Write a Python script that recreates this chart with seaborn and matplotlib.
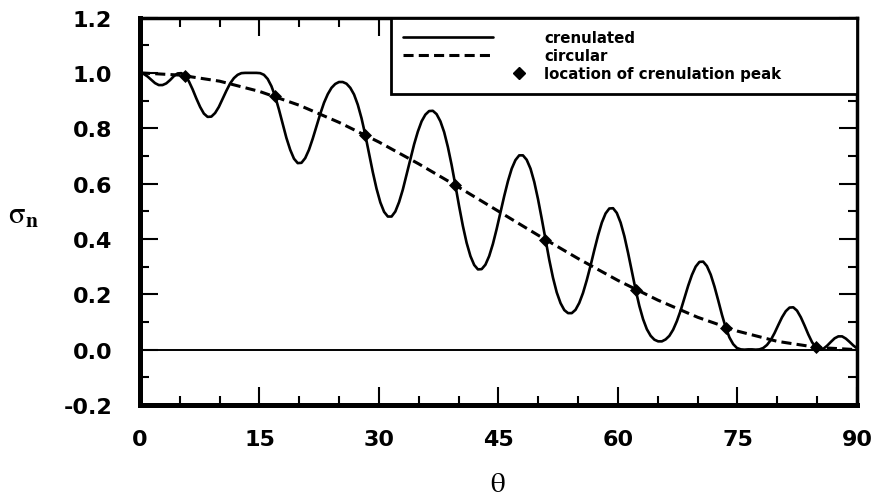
import matplotlib
matplotlib.use("Agg")
import matplotlib.pyplot as plt
from matplotlib.lines import Line2D
from matplotlib.legend_handler import HandlerLine2D
from matplotlib.ticker import MultipleLocator, FuncFormatter
import pandas as pd
import seaborn as sns

# Normal stress on the crenulated surface, sampled along theta (degrees)
theta_cren = [
    0.00, 0.48, 0.95, 1.42, 1.89, 2.36, 2.83, 3.30, 3.78, 4.25, 4.72, 5.19,
    5.66, 6.13, 6.60, 7.07, 7.55, 8.02, 8.49, 8.96, 9.43, 9.90, 10.37, 10.84,
    11.32, 11.79, 12.26, 12.73, 13.20, 13.67, 14.14, 14.61, 15.09, 15.56, 16.03, 16.50,
    16.97, 17.44, 17.91, 18.38, 18.86, 19.33, 19.80, 20.27, 20.74, 21.21, 21.68, 22.15,
    22.63, 23.10, 23.57, 24.04, 24.51, 24.98, 25.45, 25.92, 26.40, 26.87, 27.34, 27.81,
    28.28, 28.75, 29.22, 29.69, 30.17, 30.64, 31.11, 31.58, 32.05, 32.52, 32.99, 33.46,
    33.94, 34.41, 34.88, 35.35, 35.82, 36.29, 36.76, 37.23, 37.71, 38.18, 38.65, 39.12,
    39.59, 40.06, 40.53, 41.00, 41.48, 41.95, 42.42, 42.89, 43.36, 43.83, 44.30, 44.77,
    45.25, 45.72, 46.19, 46.66, 47.13, 47.60, 48.07, 48.54, 49.02, 49.49, 49.96, 50.43,
    50.90, 51.37, 51.84, 52.31, 52.79, 53.26, 53.73, 54.20, 54.67, 55.14, 55.61, 56.08,
    56.56, 57.03, 57.50, 57.97, 58.44, 58.91, 59.38, 59.85, 60.33, 60.80, 61.27, 61.74,
    62.21, 62.68, 63.15, 63.62, 64.10, 64.57, 65.04, 65.51, 65.98, 66.45, 66.92, 67.39,
    67.87, 68.34, 68.81, 69.28, 69.75, 70.22, 70.69, 71.16, 71.64, 72.11, 72.58, 73.05,
    73.52, 73.99, 74.46, 74.93, 75.41, 75.88, 76.35, 76.82, 77.29, 77.76, 78.23, 78.70,
    79.18, 79.65, 80.12, 80.59, 81.06, 81.53, 82.00, 82.47, 82.95, 83.42, 83.89, 84.36,
    84.83, 85.30, 85.77, 86.24, 86.72, 87.19, 87.66, 88.13, 88.60, 89.07, 89.54, 90.00,
]
sigma_cren = [
    1.000, 0.996, 0.987, 0.975, 0.963, 0.956, 0.956, 0.962, 0.974, 0.988, 0.998, 0.999,
    0.990, 0.970, 0.941, 0.908, 0.877, 0.853, 0.841, 0.842, 0.855, 0.877, 0.906, 0.935,
    0.962, 0.981, 0.993, 0.999, 1.000, 1.000, 1.000, 1.000, 0.999, 0.993, 0.978, 0.952,
    0.915, 0.868, 0.816, 0.765, 0.722, 0.690, 0.674, 0.675, 0.692, 0.722, 0.762, 0.807,
    0.852, 0.892, 0.923, 0.946, 0.960, 0.967, 0.967, 0.961, 0.946, 0.922, 0.885, 0.836,
    0.776, 0.709, 0.642, 0.582, 0.532, 0.498, 0.481, 0.481, 0.499, 0.533, 0.578, 0.632,
    0.688, 0.742, 0.788, 0.825, 0.849, 0.862, 0.863, 0.851, 0.825, 0.786, 0.732, 0.667,
    0.594, 0.518, 0.447, 0.386, 0.338, 0.306, 0.290, 0.291, 0.307, 0.338, 0.382, 0.436,
    0.496, 0.555, 0.609, 0.654, 0.685, 0.702, 0.702, 0.686, 0.654, 0.606, 0.544, 0.473,
    0.398, 0.325, 0.260, 0.207, 0.168, 0.143, 0.132, 0.132, 0.144, 0.169, 0.205, 0.251,
    0.304, 0.360, 0.413, 0.459, 0.492, 0.510, 0.511, 0.494, 0.459, 0.410, 0.349, 0.283,
    0.217, 0.158, 0.110, 0.074, 0.050, 0.036, 0.030, 0.030, 0.037, 0.050, 0.072, 0.103,
    0.142, 0.186, 0.231, 0.270, 0.300, 0.317, 0.318, 0.302, 0.271, 0.228, 0.178, 0.126,
    0.080, 0.044, 0.020, 0.006, 0.001, 0.000, 0.001, 0.001, 0.000, 0.001, 0.006, 0.017,
    0.035, 0.060, 0.089, 0.117, 0.139, 0.152, 0.153, 0.141, 0.117, 0.087, 0.055, 0.027,
    0.008, 0.000, 0.003, 0.014, 0.028, 0.041, 0.048, 0.048, 0.040, 0.028, 0.015, 0.005,
]

# Normal stress on the circular surface
theta_circ = [0, 5, 10, 15, 20, 25, 30, 35, 40, 45, 50, 55, 60, 65, 70, 75, 80, 85, 90]
sigma_circ = [1.000, 0.992, 0.970, 0.933, 0.883, 0.821, 0.750, 0.671, 0.587, 0.500,
              0.413, 0.329, 0.250, 0.179, 0.117, 0.067, 0.030, 0.008, 0.000]

# Positions of the crenulation peaks
theta_peak = [5.66, 16.97, 28.28, 39.59, 50.90, 62.21, 73.52, 84.83]
sigma_peak = [0.990, 0.915, 0.776, 0.594, 0.398, 0.217, 0.080, 0.008]

legend_labels = ["crenulated", "circular", "location of crenulation peak"]
x_ticks = [0, 15, 30, 45, 60, 75, 90]
y_ticks = [-0.2, 0.0, 0.2, 0.4, 0.6, 0.8, 1.0, 1.2]


class PeakMarkerHandler(HandlerLine2D):
    """Legend handler that puts the single marker just right of the handle area."""

    def get_xdata(self, legend, xdescent, ydescent, width, height, fontsize):
        m = -xdescent + width + 1.7 * fontsize
        return [m - 1.0, m + 1.0], [m]


sns.set_style("ticks")
plt.rcParams["font.family"] = ["DejaVu Sans"]
plt.rcParams["mathtext.fontset"] = "stix"
plt.rcParams["axes.unicode_minus"] = False
for key in ("text.color", "axes.labelcolor", "xtick.color", "ytick.color",
            "axes.edgecolor"):
    plt.rcParams[key] = "black"

fig = plt.figure(figsize=(8.77, 5.02), dpi=100)
ax = fig.add_axes([0.1596, 0.1912, 0.8176, 0.7719])

cren = pd.DataFrame({"theta": theta_cren, "sigma": sigma_cren})
circ = pd.DataFrame({"theta": theta_circ, "sigma": sigma_circ})
peaks = pd.DataFrame({"theta": theta_peak, "sigma": sigma_peak})

ax.axhline(0.0, color="black", lw=1.4, zorder=1)
sns.lineplot(data=cren, x="theta", y="sigma", ax=ax, color="black", lw=1.9,
             sort=False, estimator=None, legend=False, zorder=3)
cren_line = ax.lines[-1]
sns.lineplot(data=circ, x="theta", y="sigma", ax=ax, color="black", lw=2.2,
             linestyle=(0, (3.3, 1.7)), sort=False, estimator=None, legend=False,
             zorder=2)
circ_line = ax.lines[-1]
sns.scatterplot(data=peaks, x="theta", y="sigma", ax=ax, marker="D", s=44,
                color="black", edgecolor="black", linewidth=0, legend=False,
                zorder=4)

ax.set_xlim(0, 90)
ax.set_ylim(-0.2, 1.2)
ax.set_xticks(x_ticks)
ax.set_yticks(y_ticks)
ax.xaxis.set_minor_locator(MultipleLocator(5))
ax.yaxis.set_minor_locator(MultipleLocator(0.1))
ax.yaxis.set_major_formatter(FuncFormatter(lambda v, _: f"{v:.1f}"))
ax.tick_params(which="both", direction="in", top=True, right=True,
               color="black", width=1.5, labelcolor="black")
ax.tick_params(which="major", length=13, labelsize=16)
ax.tick_params(axis="y", which="major", pad=20)
ax.tick_params(axis="x", which="major", pad=17)
ax.tick_params(which="minor", length=6.5)
for lab in ax.get_xticklabels() + ax.get_yticklabels():
    lab.set_fontweight("bold")

for side, lw in (("left", 3.6), ("bottom", 3.6), ("top", 2.5), ("right", 2.5)):
    ax.spines[side].set_visible(True)
    ax.spines[side].set_linewidth(lw)
    ax.spines[side].set_color("black")
    ax.spines[side].set_capstyle("projecting")

ax.set_xlabel(r"$\mathrm{\theta}$", fontsize=21, va="center", ha="center")
ax.set_ylabel(r"$\mathrm{\sigma}_{\mathbf{n}}$", fontsize=22, rotation=0,
              ha="center", va="center")
ax.xaxis.set_label_coords(0.499, -0.200)
ax.yaxis.set_label_coords(-0.162, 0.492)

peak_proxy = Line2D([], [], linestyle="none", marker="D", markersize=6.6,
                    color="black")
leg = ax.legend([cren_line, circ_line, peak_proxy], legend_labels,
                loc="upper left", bbox_to_anchor=(0.3497, 0.8015, 0.6503, 0.1985),
                mode="expand", borderaxespad=0, frameon=True, fancybox=False,
                shadow=False, edgecolor="black", framealpha=1,
                prop=dict(family="DejaVu Sans", weight="bold", size=10.8),
                handlelength=6.0, handletextpad=3.4, labelspacing=0.2,
                borderpad=0.85, handler_map={peak_proxy: PeakMarkerHandler()})
leg.get_frame().set_linewidth(2.0)

fig.savefig("out.png", dpi=100)
